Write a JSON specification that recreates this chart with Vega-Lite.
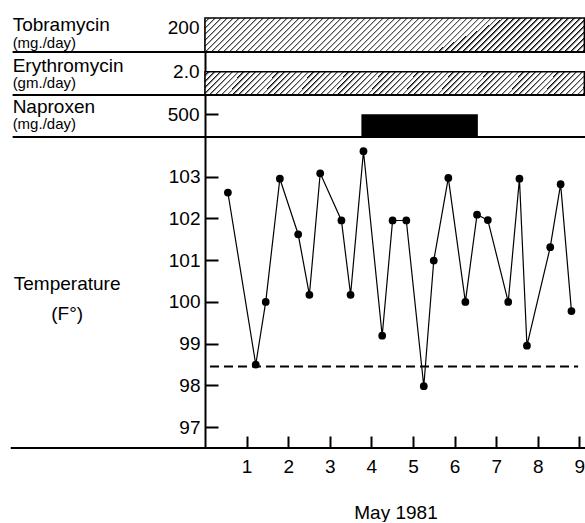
{
"$schema":"https://vega.github.io/schema/vega-lite/v6.json",
"background":"white",
"padding":{"left":9,"top":15,"right":0,"bottom":0},
"bounds":"flush",
"spacing":0,
"config":{
 "view":{"stroke":null},
 "font":"Liberation Sans",
 "axis":{"grid":false,"domainColor":"black","domainWidth":2,"tickColor":"black","tickWidth":2,"labelColor":"black","labelFont":"Liberation Sans","labelFontSize":19,"titleColor":"black","titleFont":"Liberation Sans","titleFontWeight":"normal","titleFontSize":19}
},
"vconcat":[
 {
  "width":381,"height":34,
  "data":{"values":[{"drug":"Tobramycin","unit":"(mg./day)","start":0,"end":9.12,"dose":200}]},
  "layer":[
   {"mark":{"type":"rect","stroke":"black","strokeWidth":1.5,"fill":{"gradient":"linear","x1":0,"y1":0,"x2":1.081,"y2":0.097,"stops":[
{"offset":0,"color":"#fff"},{"offset":0.008,"color":"#fff"},{"offset":0.008,"color":"#000"},
{"offset":0.0145,"color":"#fff"},{"offset":0.0225,"color":"#fff"},{"offset":0.0225,"color":"#000"},
{"offset":0.029,"color":"#fff"},{"offset":0.037,"color":"#fff"},{"offset":0.037,"color":"#000"},
{"offset":0.0435,"color":"#fff"},{"offset":0.0515,"color":"#fff"},{"offset":0.0515,"color":"#000"},
{"offset":0.058,"color":"#fff"},{"offset":0.066,"color":"#fff"},{"offset":0.066,"color":"#000"},
{"offset":0.0725,"color":"#fff"},{"offset":0.0805,"color":"#fff"},{"offset":0.0805,"color":"#000"},
{"offset":0.087,"color":"#fff"},{"offset":0.095,"color":"#fff"},{"offset":0.095,"color":"#000"},
{"offset":0.1015,"color":"#fff"},{"offset":0.1095,"color":"#fff"},{"offset":0.1095,"color":"#000"},
{"offset":0.116,"color":"#fff"},{"offset":0.124,"color":"#fff"},{"offset":0.124,"color":"#000"},
{"offset":0.1305,"color":"#fff"},{"offset":0.1385,"color":"#fff"},{"offset":0.1385,"color":"#000"},
{"offset":0.145,"color":"#fff"},{"offset":0.153,"color":"#fff"},{"offset":0.153,"color":"#000"},
{"offset":0.1595,"color":"#fff"},{"offset":0.1675,"color":"#fff"},{"offset":0.1675,"color":"#000"},
{"offset":0.174,"color":"#fff"},{"offset":0.182,"color":"#fff"},{"offset":0.182,"color":"#000"},
{"offset":0.1885,"color":"#fff"},{"offset":0.1965,"color":"#fff"},{"offset":0.1965,"color":"#000"},
{"offset":0.203,"color":"#fff"},{"offset":0.211,"color":"#fff"},{"offset":0.211,"color":"#000"},
{"offset":0.2175,"color":"#fff"},{"offset":0.2255,"color":"#fff"},{"offset":0.2255,"color":"#000"},
{"offset":0.232,"color":"#fff"},{"offset":0.24,"color":"#fff"},{"offset":0.24,"color":"#000"},
{"offset":0.2465,"color":"#fff"},{"offset":0.2545,"color":"#fff"},{"offset":0.2545,"color":"#000"},
{"offset":0.261,"color":"#fff"},{"offset":0.269,"color":"#fff"},{"offset":0.269,"color":"#000"},
{"offset":0.2755,"color":"#fff"},{"offset":0.2835,"color":"#fff"},{"offset":0.2835,"color":"#000"},
{"offset":0.29,"color":"#fff"},{"offset":0.298,"color":"#fff"},{"offset":0.298,"color":"#000"},
{"offset":0.3045,"color":"#fff"},{"offset":0.3125,"color":"#fff"},{"offset":0.3125,"color":"#000"},
{"offset":0.319,"color":"#fff"},{"offset":0.327,"color":"#fff"},{"offset":0.327,"color":"#000"},
{"offset":0.3335,"color":"#fff"},{"offset":0.3415,"color":"#fff"},{"offset":0.3415,"color":"#000"},
{"offset":0.348,"color":"#fff"},{"offset":0.356,"color":"#fff"},{"offset":0.356,"color":"#000"},
{"offset":0.3625,"color":"#fff"},{"offset":0.3705,"color":"#fff"},{"offset":0.3705,"color":"#000"},
{"offset":0.377,"color":"#fff"},{"offset":0.385,"color":"#fff"},{"offset":0.385,"color":"#000"},
{"offset":0.3915,"color":"#fff"},{"offset":0.3995,"color":"#fff"},{"offset":0.3995,"color":"#000"},
{"offset":0.406,"color":"#fff"},{"offset":0.414,"color":"#fff"},{"offset":0.414,"color":"#000"},
{"offset":0.4205,"color":"#fff"},{"offset":0.4285,"color":"#fff"},{"offset":0.4285,"color":"#000"},
{"offset":0.435,"color":"#fff"},{"offset":0.443,"color":"#fff"},{"offset":0.443,"color":"#000"},
{"offset":0.4495,"color":"#fff"},{"offset":0.4575,"color":"#fff"},{"offset":0.4575,"color":"#000"},
{"offset":0.464,"color":"#fff"},{"offset":0.472,"color":"#fff"},{"offset":0.472,"color":"#000"},
{"offset":0.4785,"color":"#fff"},{"offset":0.4865,"color":"#fff"},{"offset":0.4865,"color":"#000"},
{"offset":0.493,"color":"#fff"},{"offset":0.501,"color":"#fff"},{"offset":0.501,"color":"#000"},
{"offset":0.5075,"color":"#fff"},{"offset":0.5155,"color":"#fff"},{"offset":0.5155,"color":"#000"},
{"offset":0.522,"color":"#fff"},{"offset":0.53,"color":"#fff"},{"offset":0.53,"color":"#000"},
{"offset":0.5365,"color":"#fff"},{"offset":0.5445,"color":"#fff"},{"offset":0.5445,"color":"#000"},
{"offset":0.551,"color":"#fff"},{"offset":0.559,"color":"#fff"},{"offset":0.559,"color":"#000"},
{"offset":0.5655,"color":"#fff"},{"offset":0.5735,"color":"#fff"},{"offset":0.5735,"color":"#000"},
{"offset":0.58,"color":"#fff"},{"offset":0.588,"color":"#fff"},{"offset":0.588,"color":"#000"},
{"offset":0.5945,"color":"#fff"},{"offset":0.6025,"color":"#fff"},{"offset":0.6025,"color":"#000"},
{"offset":0.609,"color":"#fff"},{"offset":0.617,"color":"#fff"},{"offset":0.617,"color":"#000"},
{"offset":0.6235,"color":"#fff"},{"offset":0.6315,"color":"#fff"},{"offset":0.6315,"color":"#000"},
{"offset":0.638,"color":"#fff"},{"offset":0.646,"color":"#fff"},{"offset":0.646,"color":"#000"},
{"offset":0.6525,"color":"#fff"},{"offset":0.6605,"color":"#fff"},{"offset":0.6605,"color":"#000"},
{"offset":0.667,"color":"#fff"},{"offset":0.675,"color":"#fff"},{"offset":0.675,"color":"#000"},
{"offset":0.6815,"color":"#fff"},{"offset":0.6895,"color":"#fff"},{"offset":0.6895,"color":"#000"},
{"offset":0.696,"color":"#fff"},{"offset":0.704,"color":"#fff"},{"offset":0.704,"color":"#000"},
{"offset":0.7105,"color":"#fff"},{"offset":0.7185,"color":"#fff"},{"offset":0.7185,"color":"#000"},
{"offset":0.725,"color":"#fff"},{"offset":0.733,"color":"#fff"},{"offset":0.733,"color":"#000"},
{"offset":0.7395,"color":"#fff"},{"offset":0.7475,"color":"#fff"},{"offset":0.7475,"color":"#000"},
{"offset":0.754,"color":"#fff"},{"offset":0.762,"color":"#fff"},{"offset":0.762,"color":"#000"},
{"offset":0.7685,"color":"#fff"},{"offset":0.7765,"color":"#fff"},{"offset":0.7765,"color":"#000"},
{"offset":0.783,"color":"#fff"},{"offset":0.791,"color":"#fff"},{"offset":0.791,"color":"#000"},
{"offset":0.7975,"color":"#fff"},{"offset":0.8055,"color":"#fff"},{"offset":0.8055,"color":"#000"},
{"offset":0.812,"color":"#fff"},{"offset":0.82,"color":"#fff"},{"offset":0.82,"color":"#000"},
{"offset":0.8265,"color":"#fff"},{"offset":0.8345,"color":"#fff"},{"offset":0.8345,"color":"#000"},
{"offset":0.841,"color":"#fff"},{"offset":0.849,"color":"#fff"},{"offset":0.849,"color":"#000"},
{"offset":0.8555,"color":"#fff"},{"offset":0.8635,"color":"#fff"},{"offset":0.8635,"color":"#000"},
{"offset":0.87,"color":"#fff"},{"offset":0.878,"color":"#fff"},{"offset":0.878,"color":"#000"},
{"offset":0.8845,"color":"#fff"},{"offset":0.8925,"color":"#fff"},{"offset":0.8925,"color":"#000"},
{"offset":0.899,"color":"#fff"},{"offset":0.907,"color":"#fff"},{"offset":0.907,"color":"#000"},
{"offset":0.9135,"color":"#fff"},{"offset":0.9215,"color":"#fff"},{"offset":0.9215,"color":"#000"},
{"offset":0.928,"color":"#fff"},{"offset":0.936,"color":"#fff"},{"offset":0.936,"color":"#000"},
{"offset":0.9425,"color":"#fff"},{"offset":0.9505,"color":"#fff"},{"offset":0.9505,"color":"#000"},
{"offset":0.957,"color":"#fff"},{"offset":0.965,"color":"#fff"},{"offset":0.965,"color":"#000"},
{"offset":0.9715,"color":"#fff"},{"offset":0.9795,"color":"#fff"},{"offset":0.9795,"color":"#000"},
{"offset":0.986,"color":"#fff"},{"offset":0.994,"color":"#fff"},{"offset":0.994,"color":"#000"},
{"offset":1,"color":"#fff"}]}},
    "encoding":{
     "x":{"field":"start","type":"quantitative","scale":{"domain":[0,9.16],"nice":false,"zero":false},"axis":null},
     "x2":{"field":"end"},
     "y":{"field":"dose","type":"quantitative","scale":{"domain":[0,200],"nice":false},"axis":{"values":[200],"title":null,"tickSize":-13,"labelPadding":19,"tickOffset":9}},
     "y2":{"datum":0}
    }},
   {"mark":{"type":"rule","color":"black","strokeWidth":2},
    "encoding":{"x":{"datum":-4.625,"axis":null},"x2":{"datum":9.16},"y":{"datum":0}}},
   {"mark":{"type":"text","align":"left","baseline":"alphabetic","fontSize":19,"color":"black"},
    "encoding":{"x":{"datum":-4.625,"axis":null},"y":{"datum":125.3},"text":{"field":"drug"}}},
   {"mark":{"type":"text","align":"left","baseline":"alphabetic","fontSize":15,"color":"black"},
    "encoding":{"x":{"datum":-4.625,"axis":null},"y":{"datum":25.3},"text":{"field":"unit"}}}
  ]
 },
 {
  "width":381,"height":43,
  "data":{"values":[{"drug":"Erythromycin","unit":"(gm./day)","start":0,"end":9.12,"dose":2.0}]},
  "layer":[
   {"mark":{"type":"rect","stroke":"black","strokeWidth":1.5,"fill":{"gradient":"linear","x1":0,"y1":0,"x2":1.0567,"y2":0.064,"stops":[
{"offset":0,"color":"#fff"},{"offset":0.008,"color":"#fff"},{"offset":0.008,"color":"#000"},
{"offset":0.0145,"color":"#fff"},{"offset":0.0225,"color":"#fff"},{"offset":0.0225,"color":"#000"},
{"offset":0.029,"color":"#fff"},{"offset":0.037,"color":"#fff"},{"offset":0.037,"color":"#000"},
{"offset":0.0435,"color":"#fff"},{"offset":0.0515,"color":"#fff"},{"offset":0.0515,"color":"#000"},
{"offset":0.058,"color":"#fff"},{"offset":0.066,"color":"#fff"},{"offset":0.066,"color":"#000"},
{"offset":0.0725,"color":"#fff"},{"offset":0.0805,"color":"#fff"},{"offset":0.0805,"color":"#000"},
{"offset":0.087,"color":"#fff"},{"offset":0.095,"color":"#fff"},{"offset":0.095,"color":"#000"},
{"offset":0.1015,"color":"#fff"},{"offset":0.1095,"color":"#fff"},{"offset":0.1095,"color":"#000"},
{"offset":0.116,"color":"#fff"},{"offset":0.124,"color":"#fff"},{"offset":0.124,"color":"#000"},
{"offset":0.1305,"color":"#fff"},{"offset":0.1385,"color":"#fff"},{"offset":0.1385,"color":"#000"},
{"offset":0.145,"color":"#fff"},{"offset":0.153,"color":"#fff"},{"offset":0.153,"color":"#000"},
{"offset":0.1595,"color":"#fff"},{"offset":0.1675,"color":"#fff"},{"offset":0.1675,"color":"#000"},
{"offset":0.174,"color":"#fff"},{"offset":0.182,"color":"#fff"},{"offset":0.182,"color":"#000"},
{"offset":0.1885,"color":"#fff"},{"offset":0.1965,"color":"#fff"},{"offset":0.1965,"color":"#000"},
{"offset":0.203,"color":"#fff"},{"offset":0.211,"color":"#fff"},{"offset":0.211,"color":"#000"},
{"offset":0.2175,"color":"#fff"},{"offset":0.2255,"color":"#fff"},{"offset":0.2255,"color":"#000"},
{"offset":0.232,"color":"#fff"},{"offset":0.24,"color":"#fff"},{"offset":0.24,"color":"#000"},
{"offset":0.2465,"color":"#fff"},{"offset":0.2545,"color":"#fff"},{"offset":0.2545,"color":"#000"},
{"offset":0.261,"color":"#fff"},{"offset":0.269,"color":"#fff"},{"offset":0.269,"color":"#000"},
{"offset":0.2755,"color":"#fff"},{"offset":0.2835,"color":"#fff"},{"offset":0.2835,"color":"#000"},
{"offset":0.29,"color":"#fff"},{"offset":0.298,"color":"#fff"},{"offset":0.298,"color":"#000"},
{"offset":0.3045,"color":"#fff"},{"offset":0.3125,"color":"#fff"},{"offset":0.3125,"color":"#000"},
{"offset":0.319,"color":"#fff"},{"offset":0.327,"color":"#fff"},{"offset":0.327,"color":"#000"},
{"offset":0.3335,"color":"#fff"},{"offset":0.3415,"color":"#fff"},{"offset":0.3415,"color":"#000"},
{"offset":0.348,"color":"#fff"},{"offset":0.356,"color":"#fff"},{"offset":0.356,"color":"#000"},
{"offset":0.3625,"color":"#fff"},{"offset":0.3705,"color":"#fff"},{"offset":0.3705,"color":"#000"},
{"offset":0.377,"color":"#fff"},{"offset":0.385,"color":"#fff"},{"offset":0.385,"color":"#000"},
{"offset":0.3915,"color":"#fff"},{"offset":0.3995,"color":"#fff"},{"offset":0.3995,"color":"#000"},
{"offset":0.406,"color":"#fff"},{"offset":0.414,"color":"#fff"},{"offset":0.414,"color":"#000"},
{"offset":0.4205,"color":"#fff"},{"offset":0.4285,"color":"#fff"},{"offset":0.4285,"color":"#000"},
{"offset":0.435,"color":"#fff"},{"offset":0.443,"color":"#fff"},{"offset":0.443,"color":"#000"},
{"offset":0.4495,"color":"#fff"},{"offset":0.4575,"color":"#fff"},{"offset":0.4575,"color":"#000"},
{"offset":0.464,"color":"#fff"},{"offset":0.472,"color":"#fff"},{"offset":0.472,"color":"#000"},
{"offset":0.4785,"color":"#fff"},{"offset":0.4865,"color":"#fff"},{"offset":0.4865,"color":"#000"},
{"offset":0.493,"color":"#fff"},{"offset":0.501,"color":"#fff"},{"offset":0.501,"color":"#000"},
{"offset":0.5075,"color":"#fff"},{"offset":0.5155,"color":"#fff"},{"offset":0.5155,"color":"#000"},
{"offset":0.522,"color":"#fff"},{"offset":0.53,"color":"#fff"},{"offset":0.53,"color":"#000"},
{"offset":0.5365,"color":"#fff"},{"offset":0.5445,"color":"#fff"},{"offset":0.5445,"color":"#000"},
{"offset":0.551,"color":"#fff"},{"offset":0.559,"color":"#fff"},{"offset":0.559,"color":"#000"},
{"offset":0.5655,"color":"#fff"},{"offset":0.5735,"color":"#fff"},{"offset":0.5735,"color":"#000"},
{"offset":0.58,"color":"#fff"},{"offset":0.588,"color":"#fff"},{"offset":0.588,"color":"#000"},
{"offset":0.5945,"color":"#fff"},{"offset":0.6025,"color":"#fff"},{"offset":0.6025,"color":"#000"},
{"offset":0.609,"color":"#fff"},{"offset":0.617,"color":"#fff"},{"offset":0.617,"color":"#000"},
{"offset":0.6235,"color":"#fff"},{"offset":0.6315,"color":"#fff"},{"offset":0.6315,"color":"#000"},
{"offset":0.638,"color":"#fff"},{"offset":0.646,"color":"#fff"},{"offset":0.646,"color":"#000"},
{"offset":0.6525,"color":"#fff"},{"offset":0.6605,"color":"#fff"},{"offset":0.6605,"color":"#000"},
{"offset":0.667,"color":"#fff"},{"offset":0.675,"color":"#fff"},{"offset":0.675,"color":"#000"},
{"offset":0.6815,"color":"#fff"},{"offset":0.6895,"color":"#fff"},{"offset":0.6895,"color":"#000"},
{"offset":0.696,"color":"#fff"},{"offset":0.704,"color":"#fff"},{"offset":0.704,"color":"#000"},
{"offset":0.7105,"color":"#fff"},{"offset":0.7185,"color":"#fff"},{"offset":0.7185,"color":"#000"},
{"offset":0.725,"color":"#fff"},{"offset":0.733,"color":"#fff"},{"offset":0.733,"color":"#000"},
{"offset":0.7395,"color":"#fff"},{"offset":0.7475,"color":"#fff"},{"offset":0.7475,"color":"#000"},
{"offset":0.754,"color":"#fff"},{"offset":0.762,"color":"#fff"},{"offset":0.762,"color":"#000"},
{"offset":0.7685,"color":"#fff"},{"offset":0.7765,"color":"#fff"},{"offset":0.7765,"color":"#000"},
{"offset":0.783,"color":"#fff"},{"offset":0.791,"color":"#fff"},{"offset":0.791,"color":"#000"},
{"offset":0.7975,"color":"#fff"},{"offset":0.8055,"color":"#fff"},{"offset":0.8055,"color":"#000"},
{"offset":0.812,"color":"#fff"},{"offset":0.82,"color":"#fff"},{"offset":0.82,"color":"#000"},
{"offset":0.8265,"color":"#fff"},{"offset":0.8345,"color":"#fff"},{"offset":0.8345,"color":"#000"},
{"offset":0.841,"color":"#fff"},{"offset":0.849,"color":"#fff"},{"offset":0.849,"color":"#000"},
{"offset":0.8555,"color":"#fff"},{"offset":0.8635,"color":"#fff"},{"offset":0.8635,"color":"#000"},
{"offset":0.87,"color":"#fff"},{"offset":0.878,"color":"#fff"},{"offset":0.878,"color":"#000"},
{"offset":0.8845,"color":"#fff"},{"offset":0.8925,"color":"#fff"},{"offset":0.8925,"color":"#000"},
{"offset":0.899,"color":"#fff"},{"offset":0.907,"color":"#fff"},{"offset":0.907,"color":"#000"},
{"offset":0.9135,"color":"#fff"},{"offset":0.9215,"color":"#fff"},{"offset":0.9215,"color":"#000"},
{"offset":0.928,"color":"#fff"},{"offset":0.936,"color":"#fff"},{"offset":0.936,"color":"#000"},
{"offset":0.9425,"color":"#fff"},{"offset":0.9505,"color":"#fff"},{"offset":0.9505,"color":"#000"},
{"offset":0.957,"color":"#fff"},{"offset":0.965,"color":"#fff"},{"offset":0.965,"color":"#000"},
{"offset":0.9715,"color":"#fff"},{"offset":0.9795,"color":"#fff"},{"offset":0.9795,"color":"#000"},
{"offset":0.986,"color":"#fff"},{"offset":0.994,"color":"#fff"},{"offset":0.994,"color":"#000"},
{"offset":1,"color":"#fff"}]}},
    "encoding":{
     "x":{"field":"start","type":"quantitative","scale":{"domain":[0,9.16],"nice":false,"zero":false},"axis":null},
     "x2":{"field":"end"},
     "y":{"field":"dose","type":"quantitative","scale":{"domain":[0,3.69],"nice":false},"axis":{"values":[2],"format":".1f","title":null,"tickSize":-13,"labelPadding":19}},
     "y2":{"datum":0}
    }},
   {"mark":{"type":"rule","color":"black","strokeWidth":2},
    "encoding":{"x":{"datum":-4.625,"axis":null},"x2":{"datum":9.16},"y":{"datum":0}}},
   {"mark":{"type":"text","align":"left","baseline":"alphabetic","fontSize":19,"color":"black"},
    "encoding":{"x":{"datum":-4.625,"axis":null},"y":{"datum":2.0},"text":{"field":"drug"}}},
   {"mark":{"type":"text","align":"left","baseline":"alphabetic","fontSize":15,"color":"black"},
    "encoding":{"x":{"datum":-4.625,"axis":null},"y":{"datum":0.575},"text":{"field":"unit"}}}
  ]
 },
 {
  "width":381,"height":42,
  "data":{"values":[{"drug":"Naproxen","unit":"(mg./day)","start":3.76,"end":6.56,"dose":500}]},
  "layer":[
   {"mark":{"type":"rect","color":"black"},
    "encoding":{
     "x":{"field":"start","type":"quantitative","scale":{"domain":[0,9.16],"nice":false,"zero":false},"axis":null},
     "x2":{"field":"end"},
     "y":{"field":"dose","type":"quantitative","scale":{"domain":[0,925],"nice":false},"axis":{"values":[500],"title":null,"tickSize":-13,"labelPadding":19}},
     "y2":{"datum":0}
    }},
   {"mark":{"type":"rule","color":"black","strokeWidth":2},
    "encoding":{"x":{"datum":-4.625,"axis":null},"x2":{"datum":9.16},"y":{"datum":0}}},
   {"mark":{"type":"text","align":"left","baseline":"alphabetic","fontSize":19,"color":"black"},
    "encoding":{"x":{"datum":-4.625,"axis":null},"y":{"datum":535},"text":{"field":"drug"}}},
   {"mark":{"type":"text","align":"left","baseline":"alphabetic","fontSize":15,"color":"black"},
    "encoding":{"x":{"datum":-4.625,"axis":null},"y":{"datum":170},"text":{"field":"unit"}}}
  ]
 },
 {
  "width":381,"height":311,
  "layer":[
   {"data":{"values":[
     {"day":0.55,"temp":102.62},{"day":1.22,"temp":98.5},{"day":1.46,"temp":100.0},{"day":1.80,"temp":102.95},
     {"day":2.24,"temp":101.62},{"day":2.51,"temp":100.17},{"day":2.77,"temp":103.08},{"day":3.28,"temp":101.95},
     {"day":3.50,"temp":100.17},{"day":3.81,"temp":103.61},{"day":4.26,"temp":99.19},{"day":4.51,"temp":101.95},
     {"day":4.84,"temp":101.95},{"day":5.26,"temp":97.98},{"day":5.50,"temp":100.99},{"day":5.85,"temp":102.97},
     {"day":6.26,"temp":100.0},{"day":6.54,"temp":102.09},{"day":6.80,"temp":101.96},{"day":7.29,"temp":100.0},
     {"day":7.56,"temp":102.95},{"day":7.74,"temp":98.95},{"day":8.30,"temp":101.31},{"day":8.55,"temp":102.82},
     {"day":8.81,"temp":99.78}]},
    "mark":{"type":"line","color":"black","strokeWidth":1.2,"point":{"filled":true,"color":"black","size":60,"opacity":1}},
    "encoding":{
     "x":{"field":"day","type":"quantitative","scale":{"domain":[0,9.16],"nice":false,"zero":false},"axis":{"values":[1,2,3,4,5,6,7,8,9],"title":"May 1981","tickSize":-12,"labelPadding":21,"domain":false,"titlePadding":27}},
     "y":{"field":"temp","type":"quantitative","scale":{"domain":[96.5,103.95],"nice":false,"zero":false},"axis":{"values":[97,98,99,100,101,102,103],"title":null,"tickSize":-13,"labelPadding":18}}
    }},
   {"data":{"values":[{"label":"Temperature","unit":"(F°)"}]},
    "layer":[
     {"mark":{"type":"rule","color":"black","strokeWidth":2,"strokeDash":[9,5]},
      "encoding":{"x":{"datum":0.12},"x2":{"datum":8.97},"y":{"datum":98.45}}},
     {"mark":{"type":"rule","color":"black","strokeWidth":2},
      "encoding":{"x":{"datum":-4.67},"x2":{"datum":9.16},"y":{"datum":96.5}}},
     {"mark":{"type":"text","align":"center","baseline":"alphabetic","fontSize":19,"color":"black"},
      "encoding":{"x":{"datum":-3.315},"y":{"datum":100.28},"text":{"field":"label"}}},
     {"mark":{"type":"text","align":"center","baseline":"alphabetic","fontSize":19,"color":"black"},
      "encoding":{"x":{"datum":-3.315},"y":{"datum":99.56},"text":{"field":"unit"}}}
    ]}
  ]
 }
]
}
